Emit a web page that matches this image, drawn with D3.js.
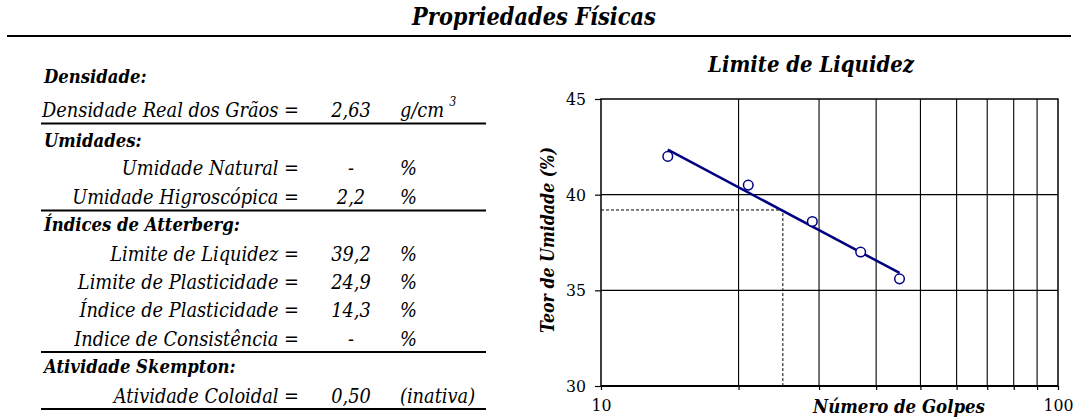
<!DOCTYPE html>
<html>
<head>
<meta charset="utf-8">
<script src="https://cdn.jsdelivr.net/npm/d3@7"></script>
<style>
  html, body { margin: 0; padding: 0; background: #fff; }
  svg { display: block; }
  text { font-family: "DejaVu Serif Condensed", "DejaVu Serif", serif; font-stretch: condensed; fill: #000; }
</style>
</head>
<body>
<svg id="chart" width="1078" height="418"></svg>
<script>
// Ensaio de limite de liquidez (Casagrande): golpes x teor de umidade
const golpes = [14, 21, 29, 37, 45];
const umidade = [42.0, 40.5, 38.6, 37.0, 35.6];
const yTicks = [30, 35, 40, 45];
const yGrid = [35, 40];
const xTickLabels = [10, 100];
const xTicks = [10, 20, 30, 40, 50, 60, 70, 80, 90, 100];
const golpesReferencia = 25;

// Tabela de propriedades
const secoes = ["Densidade:", "Umidades:", "Índices de Atterberg:", "Atividade Skempton:"];
const rotulos = ["Densidade Real dos Grãos =", "Umidade Natural =", "Umidade Higroscópica =",
  "Limite de Liquidez =", "Limite de Plasticidade =", "Índice de Plasticidade =",
  "Indice de Consistência =", "Atividade Coloidal ="];
const valores = ["2,63", "-", "2,2", "39,2", "24,9", "14,3", "-", "0,50"];
const unidades = ["g/cm", "%", "%", "%", "%", "%", "%", "(inativa)"];
const limiteLiquidez = 39.2;

const svg = d3.select("#chart");

// scale a text's font-size so that its rendered width equals `w`
function fitSize(sel, w) {
  const base = parseFloat(sel.style("font-size"));
  const len = sel.node().getComputedTextLength();
  return base * w / len;
}

// ---- Title and rule ----
const titulo = svg.append("text")
  .attr("x", 534).attr("y", 25)
  .attr("text-anchor", "middle")
  .style("font-size", "24px").style("font-weight", "bold").style("font-style", "italic")
  .text("Propriedades Físicas");
titulo.style("font-size", fitSize(titulo, 244) + "px");
svg.append("line").attr("x1", 7).attr("x2", 1071).attr("y1", 36).attr("y2", 36)
  .attr("stroke", "#000").attr("stroke-width", 2);

// ---- Table ----
const tbl = svg.append("g");
const secY = [83, 147, 231, 373];
const rowY = [117, 175, 204, 261, 289, 317, 346, 403];
const ruleY = [123.5, 210.5, 352, 409];
const xLeft = 44, xLabelEnd = 299, xValue = 351, xUnit = 400;

// common sizes for the table, from its longest label and a section header
const probe = tbl.append("text").style("font-size", "20px").style("font-style", "italic").text(rotulos[0]);
const tableSize = fitSize(probe, 257);
probe.style("font-weight", "bold").text(secoes[2]);
const headSize = fitSize(probe, 196);
probe.remove();

secoes.forEach((s, i) => {
  tbl.append("text").attr("x", xLeft).attr("y", secY[i])
    .style("font-size", headSize + "px").style("font-weight", "bold").style("font-style", "italic")
    .text(s);
});
rotulos.forEach((r, i) => {
  tbl.append("text").attr("x", xLabelEnd).attr("y", rowY[i]).attr("text-anchor", "end")
    .style("font-size", tableSize + "px").style("font-style", "italic").text(r);
  tbl.append("text").attr("x", xValue).attr("y", rowY[i]).attr("text-anchor", "middle")
    .style("font-size", tableSize + "px").style("font-style", "italic").text(valores[i]);
  const u = tbl.append("text").attr("x", xUnit).attr("y", rowY[i])
    .style("font-size", tableSize + "px").style("font-style", "italic").text(unidades[i]);
  if (i === 0) {
    u.append("tspan").attr("dy", -11).attr("dx", 5).style("font-size", (tableSize * 0.62) + "px").text("3");
  }
});
ruleY.forEach(y => {
  tbl.append("line").attr("x1", 41).attr("x2", 486).attr("y1", y).attr("y2", y)
    .attr("stroke", "#000").attr("stroke-width", 2);
});

// ---- Chart ----
const plot = { left: 601, right: 1058, top: 99, bottom: 386 };
const x = d3.scaleLog().domain([10, 100]).range([plot.left, plot.right]);
const y = d3.scaleLinear().domain([30, 45]).range([plot.bottom, plot.top]);

const tituloGraf = svg.append("text")
  .attr("x", 811).attr("y", 72).attr("text-anchor", "middle")
  .style("font-size", "22px").style("font-weight", "bold").style("font-style", "italic")
  .text("Limite de Liquidez");
tituloGraf.style("font-size", fitSize(tituloGraf, 206) + "px");

const g = svg.append("g");

g.selectAll("line.vg").data(xTicks.slice(1, -1)).join("line")
  .attr("x1", d => x(d)).attr("x2", d => x(d))
  .attr("y1", plot.top).attr("y2", plot.bottom)
  .attr("stroke", "#000").attr("stroke-width", 1.1);
g.selectAll("line.hg").data(yGrid).join("line")
  .attr("x1", plot.left).attr("x2", plot.right)
  .attr("y1", d => y(d)).attr("y2", d => y(d))
  .attr("stroke", "#000").attr("stroke-width", 1.1);

// tick label size from the width of a two-digit label
const probe2 = svg.append("text").style("font-size", "16px").text("45");
const tickSize = fitSize(probe2, 20);
probe2.remove();

const yAxis = d3.axisLeft(y).tickValues(yTicks).tickSize(6).tickPadding(9);
const ya = g.append("g").attr("transform", `translate(${plot.left},0)`).call(yAxis);
ya.attr("font-family", null);
ya.select(".domain").remove();
ya.selectAll(".tick line").attr("stroke", "#000").attr("stroke-width", 1.2);
ya.selectAll(".tick text").style("font-size", tickSize + "px").attr("fill", "#000");

const xAxis = d3.axisBottom(x).tickValues(xTicks).tickSize(4).tickPadding(9)
  .tickFormat(d => xTickLabels.includes(d) ? d : "");
const xa = g.append("g").attr("transform", `translate(0,${plot.bottom})`).call(xAxis);
xa.attr("font-family", null);
xa.select(".domain").remove();
xa.selectAll(".tick line").attr("stroke", "#000").attr("stroke-width", 1.2);
xa.selectAll(".tick text").style("font-size", tickSize + "px").attr("fill", "#000");

g.append("rect").attr("x", plot.left).attr("y", plot.top)
  .attr("width", plot.right - plot.left).attr("height", plot.bottom - plot.top)
  .attr("fill", "none").attr("stroke", "#000").attr("stroke-width", 1.5);
g.append("line").attr("x1", plot.left).attr("x2", plot.right).attr("y1", plot.bottom).attr("y2", plot.bottom)
  .attr("stroke", "#000").attr("stroke-width", 2.2);

g.append("path")
  .attr("d", `M${plot.left},${y(limiteLiquidez)}H${x(golpesReferencia)}V${plot.bottom}`)
  .attr("fill", "none").attr("stroke", "#000").attr("stroke-width", 1)
  .attr("stroke-dasharray", "3,2");

// least-squares trend line of umidade vs log10(golpes)
const lx = golpes.map(d => Math.log10(d));
const mx = d3.mean(lx), my = d3.mean(umidade);
const slope = d3.sum(lx, (v, i) => (v - mx) * (umidade[i] - my)) / d3.sum(lx, v => (v - mx) ** 2);
const fit = v => my + slope * (Math.log10(v) - mx);
const ends = d3.extent(golpes);
g.append("line")
  .attr("x1", x(ends[0])).attr("y1", y(fit(ends[0])))
  .attr("x2", x(ends[1])).attr("y2", y(fit(ends[1])))
  .attr("stroke", "#000080").attr("stroke-width", 2.5);

g.selectAll("circle.pt").data(golpes).join("circle")
  .attr("cx", d => x(d)).attr("cy", (d, i) => y(umidade[i])).attr("r", 4.8)
  .attr("fill", "#fff").attr("stroke", "#000080").attr("stroke-width", 1.5);

const rotY = svg.append("text")
  .attr("transform", `translate(554,240) rotate(-90)`)
  .attr("text-anchor", "middle")
  .style("font-size", "19px").style("font-weight", "bold").style("font-style", "italic")
  .text("Teor de Umidade (%)");
rotY.style("font-size", fitSize(rotY, 186) + "px");
const rotX = svg.append("text")
  .attr("x", 899).attr("y", 413).attr("text-anchor", "middle")
  .style("font-size", "20px").style("font-weight", "bold").style("font-style", "italic")
  .text("Número de Golpes");
rotX.style("font-size", fitSize(rotX, 172) + "px");
</script>
</body>
</html>
